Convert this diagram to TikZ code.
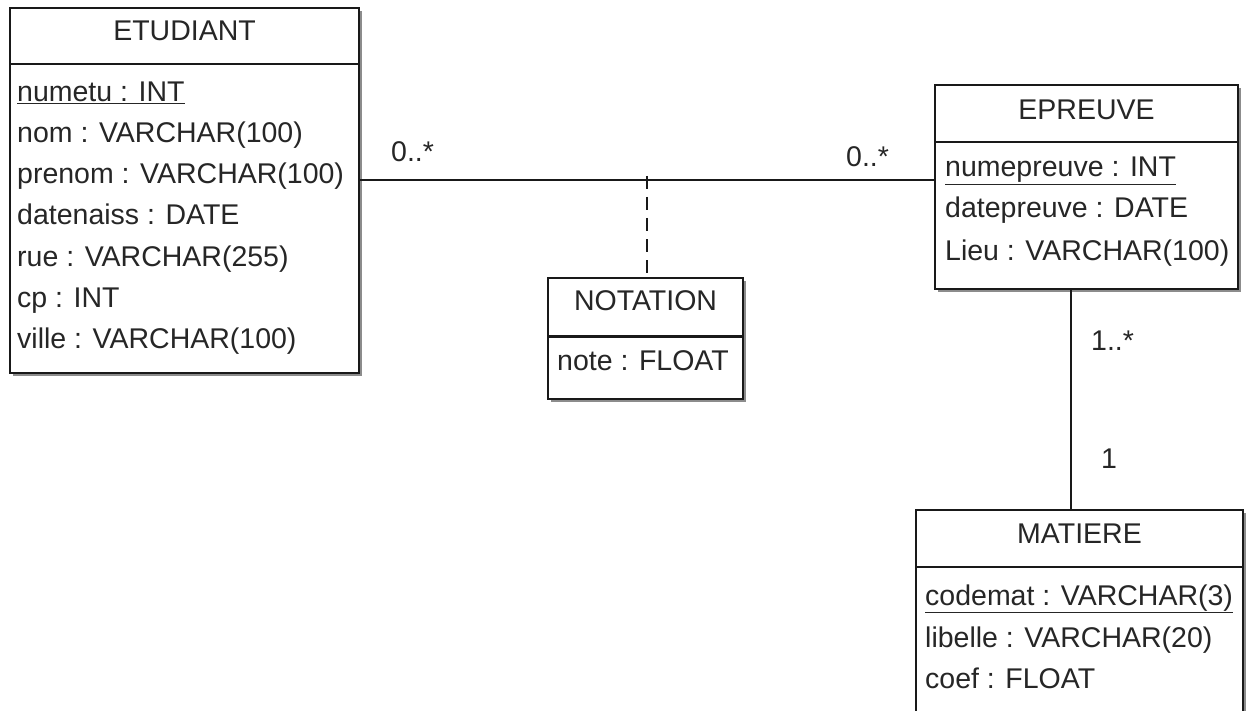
\documentclass[tikz,border=0pt]{standalone}
\usepackage{fontspec}
\setmainfont{Liberation Sans}
\usetikzlibrary{shadows}
\begin{document}
\begin{tikzpicture}[x=1pt,y=-1pt,
  every node/.style={font=\fontsize{28.5}{34}\selectfont, inner sep=0pt, text=black!85},
  cls/.style={draw=black!90, line width=1.6pt, fill=white,
    drop shadow={shadow xshift=3pt, shadow yshift=-3pt, fill=black!45, opacity=1}},
  sep/.style={draw=black!90, line width=1.6pt},
  attr/.style={anchor=base west},
  ttl/.style={anchor=base},
  mult/.style={anchor=base west},
  link/.style={draw=black!90, line width=1.6pt},
  dlink/.style={draw=black!90, line width=1.6pt, dash pattern=on 13pt off 8pt}]
\useasboundingbox (0,0) rectangle (1246,711);

% ETUDIANT
\node[cls, minimum width=349pt, minimum height=365pt] (etu) at (184.5,190.5) {};
\draw[sep] (10,64) -- (359,64);
\node[ttl] (etut) at (184.5,41) {ETUDIANT};
\node[attr] (etu1) at (17,102) {\underline{numetu : INT}};
\node[attr] (etu2) at (17,143) {nom : VARCHAR(100)};
\node[attr] (etu3) at (17,184) {prenom : VARCHAR(100)};
\node[attr] (etu4) at (17,225) {datenaiss : DATE};
\node[attr] (etu5) at (17,266) {rue : VARCHAR(255)};
\node[attr] (etu6) at (17,307) {cp : INT};
\node[attr] (etu7) at (17,348) {ville : VARCHAR(100)};

% EPREUVE
\node[cls, minimum width=303pt, minimum height=204pt] (epr) at (1086.5,187) {};
\draw[sep] (935,142) -- (1238,142);
\node[ttl] (eprt) at (1086.5,120) {EPREUVE};
\node[attr] (epr1) at (945,177) {\underline{numepreuve : INT}};
\node[attr] (epr2) at (945,218) {datepreuve : DATE};
\node[attr] (epr3) at (945,260) {Lieu : VARCHAR(100)};

% NOTATION
\node[cls, minimum width=195pt, minimum height=121pt] (nota) at (645.5,338.5) {};
\draw[sep, line width=3pt] (548,336) -- (743,336);
\node[ttl] (notat) at (645.5,310) {NOTATION};
\node[attr] (nota1) at (557,370) {note : FLOAT};

% MATIERE
\node[cls, minimum width=327pt, minimum height=240pt] (mat) at (1079.5,630) {};
\draw[sep] (916,567) -- (1243,567);
\node[ttl] (matt) at (1079.5,543) {MATIERE};
\node[attr] (mat1) at (925,605) {\underline{codemat : VARCHAR(3)}};
\node[attr] (mat2) at (925,647) {libelle : VARCHAR(20)};
\node[attr] (mat3) at (925,688) {coef : FLOAT};

% connectors
\coordinate (assoc) at (647,180);
\coordinate (atop) at (647,176);
\coordinate (vx) at (1071,0);
\draw[link] (etu.east |- assoc) -- (epr.west |- assoc);
\draw[dlink] (atop) -- (nota.north -| atop);
\draw[link] (epr.south -| vx) -- (mat.north -| vx);

% multiplicities
\node[mult] (m1) at (391,162) {0..*};
\node[mult] (m2) at (846,167) {0..*};
\node[mult] (m3) at (1091,350) {1..*};
\node[mult] (m4) at (1101,468) {1};
\end{tikzpicture}
\end{document}
